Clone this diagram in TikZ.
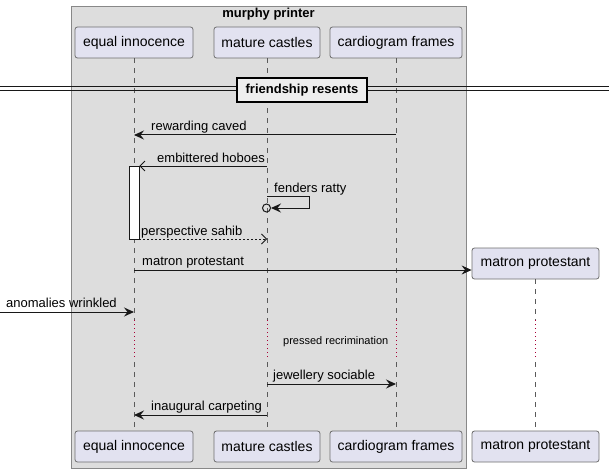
\documentclass[tikz,border=0pt]{standalone}
\usepackage{fontspec}
\setmainfont{Liberation Sans}
\usetikzlibrary{arrows.meta}
\definecolor{grpfill}{HTML}{DDDDDD}
\definecolor{grpdraw}{HTML}{888888}
\definecolor{partfill}{HTML}{E2E2F0}
\definecolor{partdraw}{HTML}{6E6E6E}
\definecolor{lifec}{HTML}{5A5A5A}
\definecolor{delayc}{HTML}{A80036}
\definecolor{msgc}{HTML}{181818}
\definecolor{divfill}{HTML}{EEEEEE}
\begin{document}
\begin{tikzpicture}[x=1pt,y=-1pt,
  part/.style={draw=partdraw,fill=partfill,rounded corners=2.5pt,minimum height=31pt,inner sep=0pt,font=\fontsize{14}{16}\selectfont,line width=0.8pt},
  life/.style={draw=lifec,dash pattern=on 5pt off 5pt,line width=0.6pt},
  delay/.style={draw=delayc,dash pattern=on 1pt off 3pt,line width=0.8pt},
  msg/.style={draw=msgc,line width=1pt,-{Stealth[length=10pt,width=9pt,inset=3.5pt]}},
  amsg/.style={draw=msgc,line width=0.8pt,-{Straight Barb[length=5pt,width=10pt]}},
  lbl/.style={anchor=base west,inner sep=0pt,font=\fontsize{13}{15}\selectfont,text=black},
  actbox/.style={draw=msgc,fill=white,line width=0.8pt,minimum width=10pt,minimum height=73pt,inner sep=0pt}]
\useasboundingbox (0,0) rectangle (609,473);
% group
\node[draw=grpdraw,fill=grpfill,line width=0.8pt,minimum width=395pt,minimum height=462pt,inner sep=0pt] (grp) at (268.5,237) {};
\node[font=\bfseries\fontsize{13}{15}\selectfont,anchor=base] (gtitle) at (268.5,18) {murphy printer};
% participants
\node[part,minimum width=118pt] (ei) at (134,42.5) {equal innocence};
\node[part,minimum width=106pt] (mc) at (267,42.5) {mature castles};
\node[part,minimum width=132pt] (cf) at (396,42.5) {cardiogram frames};
\node[part,minimum width=127pt] (mp) at (535.5,263.5) {matron protestant};
\node[part,minimum width=118pt] (ei2) at (134,446.5) {equal innocence};
\node[part,minimum width=106pt] (mc2) at (267,446.5) {mature castles};
\node[part,minimum width=132pt] (cf2) at (396,446.5) {cardiogram frames};
\node[part,minimum width=127pt] (mp2) at (535.5,446.5) {matron protestant};
% lifelines
\foreach \a/\b in {ei/ei2,mc/mc2,cf/cf2} {
  \draw[life] (\a.south) -- (\a |- 0,320);
  \draw[delay] (\a |- 0,320) -- (\a |- 0,360);
  \draw[life] (\a |- 0,362) -- (\b.north);
}
\draw[life] (mp.south) -- (mp |- 0,320);
\draw[delay] (mp |- 0,320) -- (mp |- 0,360);
\draw[life] (mp |- 0,362) -- (mp2.north);
% divider
\draw[msgc,line width=1pt] (0,87) -- (609,87) (0,90.5) -- (609,90.5);
\node[draw=black,fill=divfill,line width=2pt,minimum width=130pt,minimum height=24pt,inner sep=0pt,font=\bfseries\fontsize{13}{15}\selectfont] (div) at (302,90.5) {friendship resents};
% activation
\node[actbox] (act) at (134,202.5) {};
% messages
\draw[msg] (cf |- 0,135) -- (ei |- 0,135);
\node[lbl] (l1) at (151,131) {rewarding caved};
\draw[amsg] (mc |- 0,166) -- (act.east |- 0,166);
\node[lbl] (l2) at (157,162) {embittered hoboes};
\coordinate (sr) at (309,196);
\node[draw=msgc,line width=1pt,circle,minimum size=8pt,inner sep=0pt] (circ) at (266.5,208) {};
\draw[msg] (mc |- 0,196) -- (sr) -- (sr |- 0,208) -- (circ.east);
\node[lbl] (l3) at (274,192) {fenders ratty};
\draw[amsg,dash pattern=on 2pt off 2pt] (act.east |- 0,239) -- (mc |- 0,239);
\node[lbl] (l4) at (141,235) {perspective sahib};
\draw[msg] (ei |- 0,270) -- (mp.west |- 0,270);
\node[lbl] (l5) at (142,265.5) {matron protestant};
\coordinate (ext) at (0,312);
\draw[msg] (ext) -- (ei |- 0,312);
\node[lbl] (l6) at (6,307.5) {anomalies wrinkled};
\node[anchor=west,inner sep=0pt,font=\fontsize{11}{13}\selectfont] (dl) at (283,342) {pressed recrimination};
\draw[msg] (mc |- 0,384) -- (cf |- 0,384);
\node[lbl] (l7) at (273,379.5) {jewellery sociable};
\draw[msg] (mc |- 0,415) -- (ei |- 0,415);
\node[lbl] (l8) at (151,410.5) {inaugural carpeting};
\end{tikzpicture}
\end{document}
